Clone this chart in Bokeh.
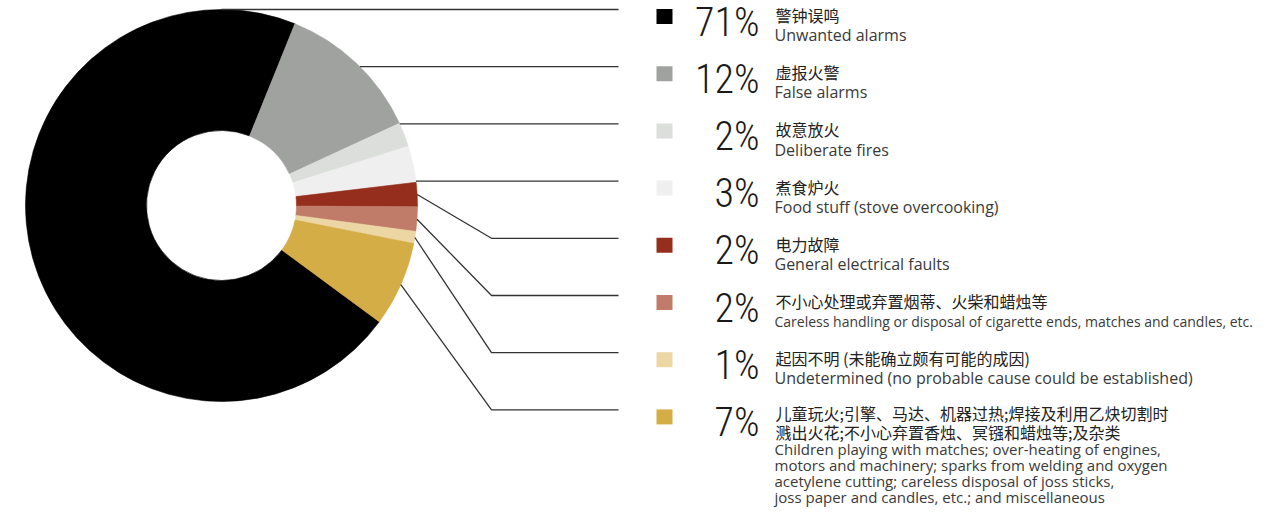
import numpy as np
from bokeh.plotting import figure
from bokeh.models import Range1d, ColumnDataSource
from bokeh.embed import file_html
from bokeh.resources import INLINE
from bokeh.core.properties import value

# ---------------- data ----------------
shares = [71, 12, 2, 3, 2, 2, 1, 7]
pct_labels = ["71%", "12%", "2%", "3%", "2%", "2%", "1%", "7%"]
zh_labels = [
    "警钟误鸣",
    "虚报火警",
    "故意放火",
    "煮食炉火",
    "电力故障",
    "不小心处理或弃置烟蒂、火柴和蜡烛等",
    "起因不明 (未能确立颇有可能的成因)",
    "儿童玩火;引擎、马达、机器过热;焊接及利用乙炔切割时\n溅出火花;不小心弃置香烛、冥镪和蜡烛等;及杂类",
]
en_labels = [
    "Unwanted alarms",
    "False alarms",
    "Deliberate fires",
    "Food stuff (stove overcooking)",
    "General electrical faults",
    "Careless handling or disposal of cigarette ends, matches and candles, etc.",
    "Undetermined (no probable cause could be established)",
    "Children playing with matches; over-heating of engines,\nmotors and machinery; sparks from welding and oxygen\nacetylene cutting; careless disposal of joss sticks,\njoss paper and candles, etc.; and miscellaneous",
]
colors = ["#000000", "#a0a2a0", "#dcdedc", "#efefef", "#952e1c", "#c07c68", "#ecd6a4", "#d5ad46"]
leader_kind = ["flat", "flat", "flat", "flat", "elbow", "elbow", "elbow", "elbow"]

# ---------------- layout ----------------
W, H = 1268, 508
CX, CY_PX = 221, 205
R_OUT, R_IN = 196, 75
GRAY_START = 22.0            # degrees clockwise from top where 2nd slice begins
ROW0, ROW_STEP = 16.0, 57.2
PCT_FONT = "Roboto Condensed Light, Roboto Condensed, DejaVu Sans Condensed, Liberation Sans Narrow, Roboto"
PCT_SIZE = 40
EN_FONT = "Open Sans"
BASE_FIX = 0.4               # renderer places alphabetic baseline ~0.4em low

def Y(px):
    return H - px

p = figure(width=W, height=H, output_backend="svg", toolbar_location=None,
           x_range=Range1d(0, W), y_range=Range1d(0, H), min_border=0)
p.axis.visible = False
p.grid.visible = False
p.outline_line_color = None
p.background_fill_color = "white"
p.border_fill_color = "white"

# wedges
tot = float(sum(shares))
deg = np.array(shares) / tot * 360.0
rot = GRAY_START - deg[0]
starts = rot + np.concatenate([[0], np.cumsum(deg)[:-1]])
ends = starts + deg
src = ColumnDataSource(dict(
    start=np.radians(90 - ends), end=np.radians(90 - starts), color=colors))
p.annular_wedge(x=CX, y=Y(CY_PX), inner_radius=R_IN, outer_radius=R_OUT,
                start_angle="start", end_angle="end", fill_color="color",
                line_color="color", line_width=0.6, source=src)

# rows
n = len(shares)
row_c = [ROW0 + ROW_STEP * i for i in range(n)]

# leader lines
xs, ys = [], []
LINE_END = 618
ELBOW_X = 491
for i in range(n):
    ly = row_c[i] - 7
    if leader_kind[i] == "flat":
        dy = ly - CY_PX
        x0 = CX + np.sqrt(max(R_OUT ** 2 - dy ** 2, 0))
        xs.append([x0, LINE_END]); ys.append([Y(ly), Y(ly)])
    else:
        mid = np.radians((starts[i] + ends[i]) / 2)
        x0 = CX + R_OUT * np.sin(mid)
        y0 = CY_PX - R_OUT * np.cos(mid)
        xs.append([x0, ELBOW_X, LINE_END]); ys.append([Y(y0), Y(ly), Y(ly)])
p.multi_line(xs=xs, ys=ys, line_color="#333333", line_width=1.3)

# legend squares
p.rect(x=[664] * n, y=[Y(c) for c in row_c], width=16, height=15,
       fill_color=colors, line_color=None)

# percentages
p.text(x=[759] * n, y=[Y(c + 21.5 - BASE_FIX * PCT_SIZE) for c in row_c], text=pct_labels,
       text_align="right", text_baseline="alphabetic",
       text_font=value(PCT_FONT), text_font_size=f"{PCT_SIZE}px",
       text_color="#1a1a1a")

# chinese + english labels
zx, zy, zt = [], [], []
ex, ey, et, es = [], [], [], []
for i in range(n):
    zl = zh_labels[i].split("\n")
    el = en_labels[i].split("\n")
    multi = len(zl) > 1
    zh_top = row_c[i] - 1.5 - (2 if multi else 0)
    zh_step = 19
    for k, t in enumerate(zl):
        zx.append(775); zy.append(Y(zh_top + zh_step * k)); zt.append(t)
    longest = max(len(t) for t in el)
    if longest > 70:
        size = 14
    elif multi:
        size = 15
    else:
        size = 16
    if multi:
        base = zh_top + zh_step * (len(zl) - 1) + 23
        step = 16
    else:
        base = row_c[i] + 25
        step = 18
    for k, t in enumerate(el):
        ex.append(774); ey.append(Y(base + step * k - BASE_FIX * size)); et.append(t)
        es.append(f"{size}px")

p.text(x=zx, y=zy, text=zt, text_align="left", text_baseline="middle",
       text_font=value("Noto Sans CJK SC"), text_font_size="16px",
       text_color="#222222")
p.text(x="x", y="y", text="t", text_font=value(EN_FONT), text_font_size="s",
       text_align="left", text_baseline="alphabetic", text_color="#3a3a3a",
       source=ColumnDataSource(dict(x=ex, y=ey, t=et, s=es)))

open("out.html", "w").write(file_html(p, INLINE))
